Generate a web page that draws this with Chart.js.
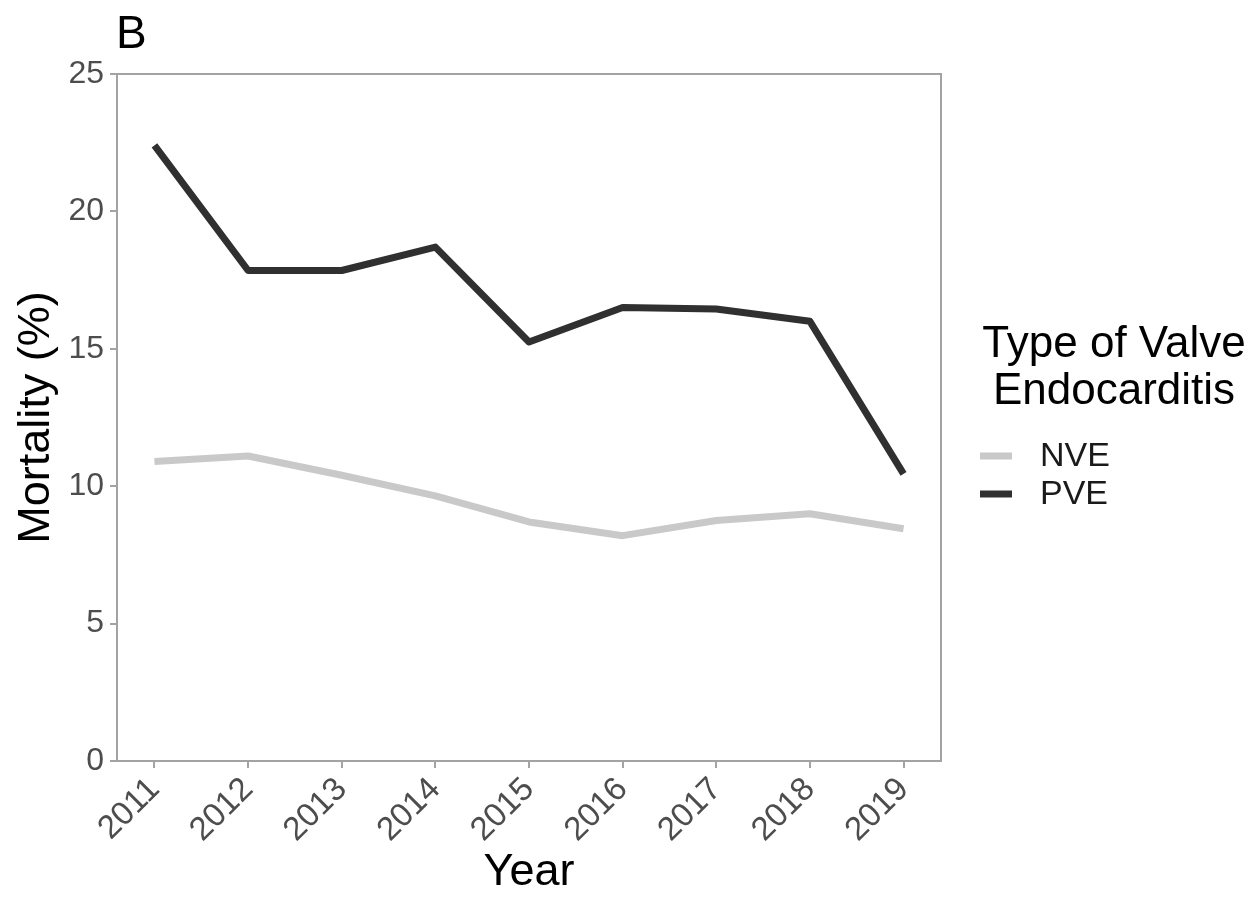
<!DOCTYPE html>
<html>
<head>
<meta charset="utf-8">
<script src="https://cdn.jsdelivr.net/npm/chart.js@4/dist/chart.umd.min.js"></script>
<style>
  body { margin: 0; background: #fff; }
  #wrap { width: 1259px; height: 898px; }
</style>
</head>
<body>
<div id="wrap"><canvas id="chart"></canvas></div>
<script>
// values
const years = [2011, 2012, 2013, 2014, 2015, 2016, 2017, 2018, 2019];
const nveMortality = [10.9, 11.1, 10.4, 9.65, 8.7, 8.2, 8.75, 9.0, 8.45];
const pveMortality = [22.4, 17.85, 17.85, 18.7, 15.25, 16.5, 16.45, 16.0, 10.45];
const yTicks = [0, 5, 10, 15, 20, 25];
const legendTitle = ['Type of Valve', 'Endocarditis'];

const FONT = '"Liberation Sans", Arial, Helvetica, sans-serif';
const AXIS_GREY = '#a3a3a3';

function toPoints(values) {
  return years.map((yr, i) => ({ x: yr, y: values[i] }));
}

// panel border, legend and the "B" tag, drawn on the canvas after the chart
const extras = {
  id: 'extras',
  afterDraw(chart) {
    const ctx = chart.ctx;
    const a = chart.chartArea;
    ctx.save();
    ctx.strokeStyle = AXIS_GREY;
    ctx.lineWidth = 2;
    ctx.strokeRect(a.left, a.top, a.right - a.left, a.bottom - a.top);

    ctx.fillStyle = '#000';
    ctx.textBaseline = 'middle';
    ctx.textAlign = 'left';
    ctx.font = '46px ' + FONT;
    ctx.fillText('B', 116, 35);

    // legend title
    ctx.textAlign = 'center';
    ctx.font = '44px ' + FONT;
    legendTitle.forEach((line, i) => ctx.fillText(line, 1114, 345 + i * 47));

    // legend keys
    ctx.textAlign = 'left';
    ctx.font = '34px ' + FONT;
    chart.data.datasets.forEach((ds, i) => {
      const y = 456 + i * 38;
      ctx.strokeStyle = ds.borderColor;
      ctx.lineWidth = 7;
      ctx.beginPath();
      ctx.moveTo(980, y);
      ctx.lineTo(1012, y);
      ctx.stroke();
      ctx.fillStyle = '#1a1a1a';
      ctx.fillText(ds.label, 1040, y + 1);
    });
    ctx.restore();
  }
};

new Chart(document.getElementById('chart'), {
  type: 'line',
  data: {
    datasets: [
      {
        label: 'NVE',
        data: toPoints(nveMortality),
        borderColor: '#c9c9c9',
        borderWidth: 7,
      },
      {
        label: 'PVE',
        data: toPoints(pveMortality),
        borderColor: '#303030',
        borderWidth: 7,
      },
    ],
  },
  options: {
    responsive: true,
    maintainAspectRatio: false,
    animation: false,
    layout: { padding: { left: 0, top: 74, right: 318, bottom: 0 } },
    elements: {
      point: { radius: 0 },
      line: { tension: 0, borderJoinStyle: 'round', borderCapStyle: 'butt' },
    },
    plugins: {
      legend: { display: false },
      tooltip: { enabled: false },
    },
    scales: {
      x: {
        type: 'linear',
        min: 2010.6,
        max: 2019.4,
        afterBuildTicks: scale => { scale.ticks = years.map(v => ({ value: v })); },
        afterFit: scale => { scale.height = 137; },
        grid: { drawOnChartArea: false, drawTicks: true, tickLength: 7, color: AXIS_GREY, lineWidth: 2 },
        border: { display: true, color: AXIS_GREY, width: 2 },
        ticks: {
          minRotation: 45,
          maxRotation: 45,
          padding: 2,
          color: '#4d4d4d',
          font: { family: FONT, size: 33 },
          callback: v => String(v),
        },
        title: {
          display: true,
          text: 'Year',
          color: '#000',
          font: { family: FONT, size: 45, lineHeight: 1 },
          padding: { top: 0, bottom: 3 },
        },
      },
      y: {
        min: 0,
        max: 25,
        afterBuildTicks: scale => { scale.ticks = yTicks.map(v => ({ value: v })); },
        afterFit: scale => { scale.width = 117; },
        grid: { drawOnChartArea: false, drawTicks: true, tickLength: 7, color: AXIS_GREY, lineWidth: 2 },
        border: { display: true, color: AXIS_GREY, width: 2 },
        ticks: {
          padding: 6,
          color: '#4d4d4d',
          font: { family: FONT, size: 32 },
        },
        title: {
          display: true,
          text: 'Mortality (%)',
          color: '#000',
          font: { family: FONT, size: 45, lineHeight: 1 },
          padding: { top: 14, bottom: 0 },
        },
      },
    },
  },
  plugins: [extras],
});
</script>
</body>
</html>
